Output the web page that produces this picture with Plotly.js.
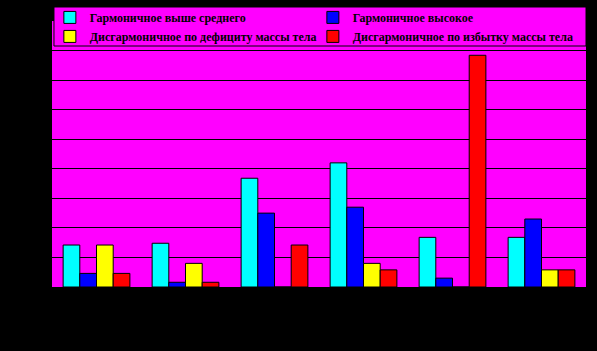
<!DOCTYPE html>
<html>
<head>
<meta charset="utf-8">
<script src="https://cdn.plot.ly/plotly-3.0.1.min.js"></script>
<style>html,body{margin:0;padding:0;background:#000;}#chart{width:597px;height:351px;}</style>
</head>
<body>
<div id="chart"></div>
<script>
var categories = ["1", "2", "3", "4", "5", "6"];
var seriesNames = [
  "Гармоничное выше среднего",
  "Гармоничное высокое",
  "Дисгармоничное по дефициту массы тела",
  "Дисгармоничное по избытку массы тела"
];
var harmAbove = [7.1, 7.4, 18.4, 21.0, 8.4, 8.4];
var harmHigh = [2.3, 0.8, 12.5, 13.5, 1.5, 11.5];
var disDeficit = [7.1, 4.0, 0, 4.0, 0, 2.9];
var disExcess = [2.3, 0.8, 7.1, 2.9, 39.2, 2.9];
var colors = ["#00FFFF", "#0000FF", "#FFFF00", "#FF0000"];
var series = [harmAbove, harmHigh, disDeficit, disExcess];

var traces = series.map(function (vals, i) {
  return {
    type: "bar",
    name: seriesNames[i],
    x: categories,
    y: vals,
    marker: { color: colors[i], line: { color: "#000", width: 1 } }
  };
});

var layout = {
  width: 597,
  height: 351,
  paper_bgcolor: "#000000",
  plot_bgcolor: "#FF00FF",
  margin: { l: 52, r: 11, t: 21, b: 64, pad: 0, autoexpand: false },
  barmode: "group",
  bargap: 0.25,
  bargroupgap: 0,
  showlegend: true,
  legend: {
    orientation: "h",
    x: -0.004,
    xanchor: "left",
    y: 1.068,
    yanchor: "top",
    bgcolor: "rgba(0,0,0,0)",
    borderwidth: 0,
    entrywidth: 218,
    entrywidthmode: "pixels",
    itemwidth: 30,
    tracegroupgap: 0,
    font: { family: "Liberation Serif", size: 12, color: "#000", weight: "bold" }
  },
  shapes: [{
    type: "rect", xref: "paper", yref: "paper", layer: "above",
    x0: 0.0037, x1: 1.0, y0: (287 - 46) / 266, y1: (287 - 7) / 266,
    fillcolor: "#FF00FF", line: { color: "#000", width: 1 }
  }],
  xaxis: {
    type: "category",
    showticklabels: false,
    showgrid: false,
    zeroline: false,
    showline: false,
    ticks: ""
  },
  yaxis: {
    range: [0, 45],
    dtick: 5,
    showticklabels: false,
    showgrid: true,
    gridcolor: "#000000",
    gridwidth: 1,
    zeroline: false,
    showline: false,
    ticks: ""
  }
};

Plotly.newPlot("chart", traces, layout, { displayModeBar: false, staticPlot: true });
</script>
</body>
</html>
